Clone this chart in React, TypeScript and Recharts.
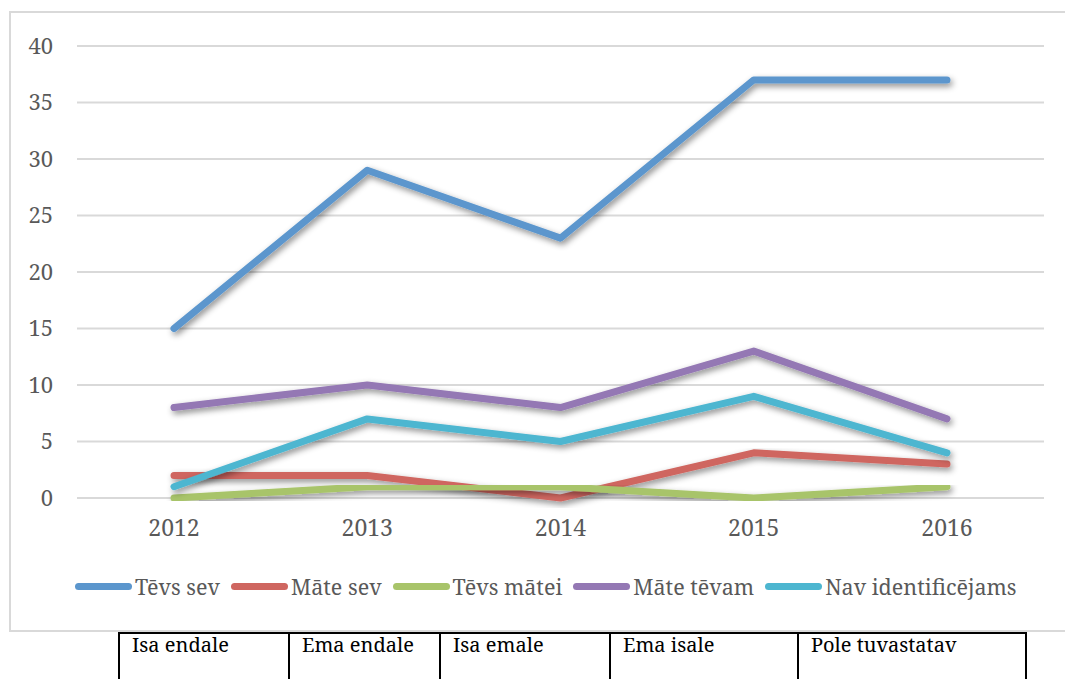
import { LineChart, Line, XAxis, YAxis, CartesianGrid, Legend } from "recharts";

const years = ["2012", "2013", "2014", "2015", "2016"];
const tevsSev = [15, 29, 23, 37, 37];
const mateSev = [2, 2, 0, 4, 3];
const tevsMatei = [0, 1, 1, 0, 1];
const mateTevam = [8, 10, 8, 13, 7];
const navIdent = [1, 7, 5, 9, 4];
const yTicks = [0, 5, 10, 15, 20, 25, 30, 35, 40];
const tableCells = ["Isa endale", "Ema endale", "Isa emale", "Ema isale", "Pole tuvastatav"];

const series = [
  { key: "tevsSev", name: "Tēvs sev", color: "#5b96cd" },
  { key: "mateSev", name: "Māte sev", color: "#cf6660" },
  { key: "tevsMatei", name: "Tēvs mātei", color: "#a8c46a" },
  { key: "mateTevam", name: "Māte tēvam", color: "#9478b4" },
  { key: "navIdent", name: "Nav identificējams", color: "#4db6d0" },
];

const data = years.map((year, i) => ({
  year,
  tevsSev: tevsSev[i],
  mateSev: mateSev[i],
  tevsMatei: tevsMatei[i],
  mateTevam: mateTevam[i],
  navIdent: navIdent[i],
}));

const font = '"Noto Serif", "Liberation Serif", "DejaVu Serif", serif';
const colWidths = [170, 151, 170, 188, 228];

function LegendBox() {
  return (
    <div
      style={{
        display: "flex",
        alignItems: "center",
        paddingLeft: 75,
        height: 40,
        fontFamily: font,
        fontSize: 21.5,
        color: "#595959",
        whiteSpace: "nowrap",
      }}
    >
      {series.map((s) => (
        <div key={s.key} style={{ display: "flex", alignItems: "center", marginRight: 11 }}>
          <div style={{ width: 57, height: 7, borderRadius: 4, background: s.color, marginRight: 3 }} />
          <span>{s.name}</span>
        </div>
      ))}
    </div>
  );
}

export default function App() {
  return (
    <div style={{ position: "absolute", left: 0, top: 0, width: 1065, height: 679, overflow: "hidden", background: "#fff" }}>
      <div
        style={{
          position: "absolute",
          left: 9,
          top: 11,
          width: 1080,
          height: 617,
          border: "2px solid #d9d9d9",
        }}
      />
      <div style={{ position: "absolute", left: 0, top: 0 }}>
        <LineChart width={1065} height={630} data={data} margin={{ top: 46, right: 21, left: 0, bottom: 24 }}>
          <defs>
            <filter id="shadow" x="-10%" y="-10%" width="120%" height="130%">
              <feDropShadow dx="2" dy="3" stdDeviation="3" floodColor="#000" floodOpacity="0.45" />
            </filter>
          </defs>
          <CartesianGrid vertical={false} stroke="#d9d9d9" strokeWidth={2} />
          <XAxis
            dataKey="year"
            axisLine={false}
            tickLine={false}
            tickMargin={16}
            height={68}
            padding={{ left: 97, right: 97 }}
            tick={{ fill: "#595959", fontSize: 23, fontFamily: font }}
          />
          <YAxis
            domain={[0, 40]}
            ticks={yTicks}
            width={77}
            axisLine={false}
            tickLine={false}
            tickMargin={18}
            tick={{ fill: "#595959", fontSize: 22, fontFamily: font }}
          />
          <Legend verticalAlign="bottom" content={() => <LegendBox />} />
          {series.map((s) => (
            <Line
              key={s.key}
              dataKey={s.key}
              name={s.name}
              stroke={s.color}
              strokeWidth={7}
              strokeLinecap="round"
              strokeLinejoin="round"
              dot={false}
              activeDot={false}
              filter="url(#shadow)"
              isAnimationActive={false}
            />
          ))}
        </LineChart>
      </div>
      <table
        style={{
          position: "absolute",
          left: 118,
          top: 632,
          borderCollapse: "collapse",
          fontFamily: font,
          fontSize: 20,
          lineHeight: "20px",
          color: "#000",
          whiteSpace: "nowrap",
        }}
      >
        <tbody>
          <tr>
            {tableCells.map((c, i) => (
              <td
                key={c}
                style={{
                  width: colWidths[i],
                  boxSizing: "border-box",
                  border: "2px solid #000",
                  height: 80,
                  verticalAlign: "top",
                  padding: "1px 12px",
                }}
              >
                {c}
              </td>
            ))}
          </tr>
        </tbody>
      </table>
    </div>
  );
}
